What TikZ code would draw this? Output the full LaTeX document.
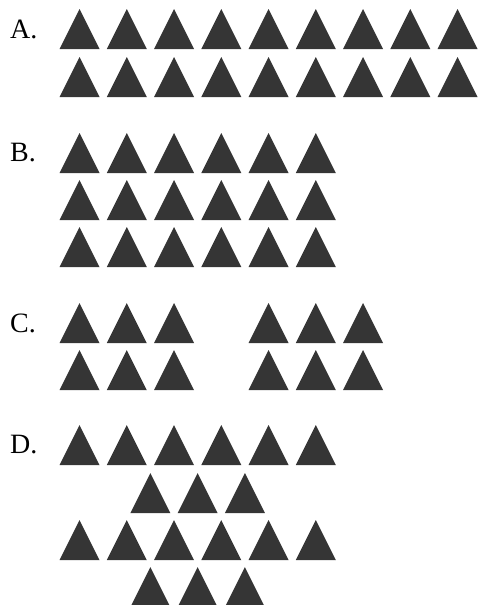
\documentclass[tikz,border=0pt]{standalone}
\usepackage{fontspec}
\setmainfont{Liberation Serif}
\usepackage{tikz}
\definecolor{triangledark}{HTML}{353535}
\tikzset{
  triangle/.style={fill=triangledark},
  choicelabel/.style={anchor=west,inner sep=0pt,font=\fontsize{28}{30}\selectfont}
}
% one triangle, left end of its base at (#1,#2)
\newcommand{\tri}[2]{\fill[triangle] (#1,#2) -- ++(40,0) -- ++(-20,-40) -- cycle;}

\begin{document}
\begin{tikzpicture}[x=1pt,y=-1pt]
  \useasboundingbox (0,0) rectangle (478,605);
  % A
  \node[choicelabel] (labA) at (10,29) {A.};
  \foreach \yb in {49,97} { \foreach \i in {0,...,8} { \tri{59.5+47.25*\i}{\yb} } }
  % B
  \node[choicelabel] (labB) at (10,153) {B.};
  \foreach \yb in {173,220,267} { \foreach \i in {0,...,5} { \tri{59.5+47.25*\i}{\yb} } }
  % C
  \node[choicelabel] (labC) at (10,323) {C.};
  \foreach \yb in {343,390} { \foreach \i in {0,1,2,4,5,6} { \tri{59.5+47.25*\i}{\yb} } }
  % D
  \node[choicelabel] (labD) at (10,445) {D.};
  \foreach \yb in {465,560} { \foreach \i in {0,...,5} { \tri{59.5+47.25*\i}{\yb} } }
  \foreach \yb in {513,607} { \foreach \i in {1.5,2.5,3.5} { \tri{59.5+47.25*\i}{\yb} } }
\end{tikzpicture}
\end{document}
